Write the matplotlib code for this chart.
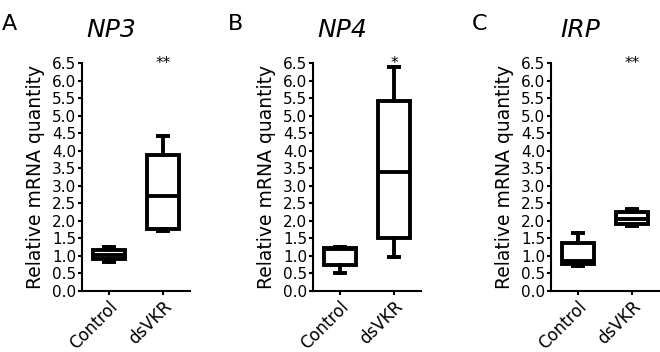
import matplotlib.pyplot as plt
from matplotlib.ticker import FormatStrFormatter
import numpy as np

# values (Control, dsVKR)
genes = ['NP3', 'NP4', 'IRP']
panel_letters = ['A', 'B', 'C']
groups = ['Control', 'dsVKR']
whisker_low = [[0.83, 1.72], [0.50, 0.97], [0.70, 1.86]]
q1 = [[0.90, 1.78], [0.75, 1.52], [0.78, 1.92]]
median = [[1.03, 2.70], [1.20, 3.38], [0.85, 2.05]]
q3 = [[1.17, 3.88], [1.22, 5.42], [1.37, 2.26]]
whisker_high = [[1.26, 4.43], [1.25, 6.40], [1.64, 2.33]]
stars = ['**', '*', '**']

W, H = 660, 352
fig = plt.figure(figsize=(W / 100, H / 100), dpi=100)

lefts = [82, 313, 551]
letter_x = [2, 228, 472]
lw = 2.8

for i in range(3):
    ax = fig.add_axes([lefts[i] / W, 61 / H, 108 / W, 228 / H])
    stats = []
    for j, g in enumerate(groups):
        stats.append(dict(whislo=whisker_low[i][j], q1=q1[i][j], med=median[i][j],
                          q3=q3[i][j], whishi=whisker_high[i][j], label=g))
    ax.bxp(stats, positions=[1, 2], widths=0.6, capwidths=0.25, showfliers=False,
           patch_artist=True,
           boxprops=dict(facecolor='white', edgecolor='black', linewidth=lw),
           medianprops=dict(color='black', linewidth=lw, solid_capstyle='butt'),
           whiskerprops=dict(color='black', linewidth=lw),
           capprops=dict(color='black', linewidth=lw, solid_capstyle='butt'))

    ax.set_xlim(0.5, 2.5)
    ax.set_ylim(0, 6.5)
    ax.set_yticks(np.arange(0, 6.51, 0.5))
    ax.yaxis.set_major_formatter(FormatStrFormatter('%.1f'))
    ax.set_xticks([1, 2])
    ax.set_xticklabels(groups, rotation=45, ha='right', rotation_mode='anchor', fontsize=12)
    ax.tick_params(axis='y', labelsize=11, length=3, width=1.5, pad=1)
    ax.tick_params(axis='x', length=3, width=1.5, pad=2)
    for s in ['top', 'right']:
        ax.spines[s].set_visible(False)
    for s in ['left', 'bottom']:
        ax.spines[s].set_linewidth(1.5)
    ax.set_ylabel('Relative mRNA quantity', fontsize=13.5, labelpad=5)

    ax.text(0.27, 1.114, genes[i], transform=ax.transAxes, ha='center', va='baseline',
            fontsize=18, style='italic')
    ax.text(2, 6.36, stars[i], ha='center', va='baseline', fontsize=11, clip_on=False)
    fig.text(letter_x[i] / W, 1 - 30 / H, panel_letters[i], fontsize=16, va='baseline')

fig.savefig('out.png', dpi=100)
